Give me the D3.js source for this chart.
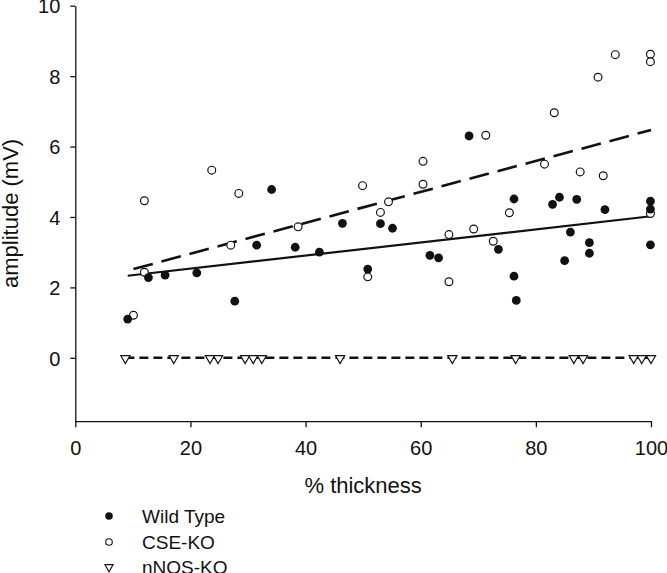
<!DOCTYPE html>
<html>
<head>
<meta charset="utf-8">
<script src="https://cdn.jsdelivr.net/npm/d3@7"></script>
<style>
  html, body { margin: 0; padding: 0; background: #fff; }
  svg { display: block; font-family: Arial, "Liberation Sans", Helvetica, sans-serif; }
</style>
</head>
<body>
<svg id="chart" width="667" height="573"></svg>
<script>
// ---- data ----
const wtX = [9.1, 12.7, 15.6, 21.1, 27.7, 31.5, 34.1, 38.2, 42.4, 46.4, 50.8, 53.0, 55.1, 61.6, 63.1, 68.4, 73.5, 76.2, 76.2, 76.6, 82.9, 84.1, 85.0, 86.0, 87.1, 89.3, 89.3, 92.0, 99.9, 99.9, 99.9];
const wtY = [1.10, 2.28, 2.35, 2.41, 1.61, 3.20, 4.78, 3.14, 3.00, 3.82, 2.52, 3.81, 3.68, 2.91, 2.84, 6.30, 3.08, 4.51, 2.32, 1.63, 4.36, 4.56, 2.76, 3.57, 4.50, 3.27, 2.97, 4.21, 4.45, 4.22, 3.21];

const cseX = [10.1, 12.0, 12.0, 23.7, 27.0, 28.4, 38.7, 49.9, 50.8, 53.0, 54.4, 60.4, 60.4, 64.9, 64.9, 69.2, 71.3, 72.6, 75.4, 81.5, 83.2, 87.7, 90.8, 91.7, 93.8, 99.9, 99.9, 99.9];
const cseY = [1.21, 2.43, 4.46, 5.33, 3.20, 4.67, 3.72, 4.89, 2.30, 4.13, 4.43, 5.58, 4.93, 3.50, 2.16, 3.66, 6.32, 3.31, 4.12, 5.50, 6.96, 5.28, 7.97, 5.17, 8.61, 8.62, 8.41, 4.10];

const nnosX = [8.7, 17.1, 23.4, 24.8, 29.5, 30.9, 32.4, 46.0, 65.5, 76.5, 86.6, 88.2, 97.0, 98.4, 100];
const nnosY = [0, 0, 0, 0, 0, 0, 0, 0, 0, 0, 0, 0, 0, 0, 0];

// regression line endpoints
const wtFitX = [9.1, 100];
const wtFitY = [2.33, 4.02];
const cseFitX = [10.1, 100];
const cseFitY = [2.52, 6.47];
const nnosFitX = [8.7, 100];
const nnosFitY = [0, 0];

const xTicks = [0, 20, 40, 60, 80, 100];
const yTicks = [0, 2, 4, 6, 8, 10];

const legendLabels = ["Wild Type", "CSE-KO", "nNOS-KO"];

// ---- layout ----
const svg = d3.select("#chart");
const x = d3.scaleLinear().domain([0, 100]).range([75.3, 651]);
const y = d3.scaleLinear().domain([-1.8, 10]).range([421.2, 5.7]);

const ink = "#111";

// axes
const xAxis = d3.axisBottom(x).tickValues(xTicks).tickSize(6).tickSizeOuter(0).tickPadding(14);
const yAxis = d3.axisLeft(y).tickValues(yTicks).tickSize(5).tickSizeOuter(0).tickPadding(10);

const gx = svg.append("g").attr("transform", `translate(0,${y(-1.8)})`).call(xAxis);
const gy = svg.append("g").attr("transform", `translate(${x(0)},0)`).call(yAxis);
[gx, gy].forEach(g => {
  g.select(".domain").attr("stroke", ink).attr("stroke-width", 1.3);
  g.selectAll(".tick line").attr("stroke", ink).attr("stroke-width", 1.3);
  g.selectAll(".tick text").attr("fill", ink).attr("font-size", 20)
    .attr("font-family", 'Arial, "Liberation Sans", sans-serif');
});
gx.selectAll(".tick text").attr("dy", "0.68em");
gy.selectAll(".tick text").attr("dy", "0.36em");

// axis titles
svg.append("text").attr("x", (x(0) + x(100)) / 2).attr("y", 493)
  .attr("text-anchor", "middle").attr("font-size", 22).attr("fill", ink).text("% thickness");
svg.append("text").attr("transform", `translate(18,${(y(10) + y(-1.8)) / 2}) rotate(-90)`)
  .attr("text-anchor", "middle").attr("font-size", 22).attr("fill", ink).text("amplitude (mV)");

// regression lines
const line = d3.line().x(d => x(d[0])).y(d => y(d[1]));
const fits = [
  { xs: wtFitX, ys: wtFitY, dash: null, w: 2.2 },
  { xs: cseFitX, ys: cseFitY, dash: "20,9", w: 2.6 },
  { xs: nnosFitX, ys: nnosFitY, dash: "9,5", w: 2.4 }
];
fits.forEach(f => {
  svg.append("path")
    .attr("d", line(d3.zip(f.xs, f.ys)))
    .attr("fill", "none").attr("stroke", ink).attr("stroke-width", f.w)
    .attr("stroke-dasharray", f.dash);
});

// points
const tri = d3.symbol().type(d3.symbolTriangle).size(36);
svg.append("g").selectAll("path").data(d3.zip(nnosX, nnosY)).join("path")
  .attr("d", tri)
  .attr("transform", d => `translate(${x(d[0])},${y(d[1]) + 0.5}) rotate(180)`)
  .attr("fill", "#fff").attr("stroke", ink).attr("stroke-width", 1.2);

svg.append("g").selectAll("circle").data(d3.zip(cseX, cseY)).join("circle")
  .attr("cx", d => x(d[0])).attr("cy", d => y(d[1])).attr("r", 3.9)
  .attr("fill", "#fff").attr("stroke", ink).attr("stroke-width", 1.2);

svg.append("g").selectAll("circle").data(d3.zip(wtX, wtY)).join("circle")
  .attr("cx", d => x(d[0])).attr("cy", d => y(d[1])).attr("r", 4.4)
  .attr("fill", ink);

// legend
const lg = svg.append("g");
const rows = [516, 542, 567];
lg.append("circle").attr("cx", 109).attr("cy", rows[0]).attr("r", 3.8).attr("fill", ink);
lg.append("circle").attr("cx", 109).attr("cy", rows[1]).attr("r", 3.3)
  .attr("fill", "#fff").attr("stroke", ink).attr("stroke-width", 1.1);
lg.append("path").attr("d", d3.symbol().type(d3.symbolTriangle).size(30))
  .attr("transform", `translate(109,${rows[2]}) rotate(180)`)
  .attr("fill", "#fff").attr("stroke", ink).attr("stroke-width", 1.1);
legendLabels.forEach((t, i) => {
  lg.append("text").attr("x", 142).attr("y", rows[i]).attr("dy", "0.36em")
    .attr("font-size", 19).attr("fill", ink).text(t);
});
</script>
</body>
</html>
